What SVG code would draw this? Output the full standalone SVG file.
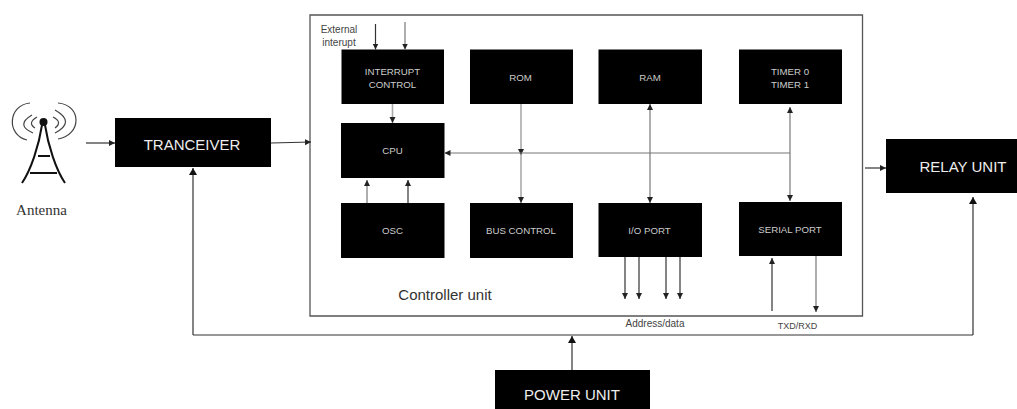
<svg xmlns="http://www.w3.org/2000/svg" width="1017" height="409" viewBox="0 0 1017 409">
<defs>
<marker id="a" markerUnits="userSpaceOnUse" markerWidth="8" markerHeight="8" refX="6" refY="4" orient="auto-start-reverse"><path d="M0 1L6 4L0 7Z" fill="#222"/></marker>
<marker id="k" markerUnits="userSpaceOnUse" markerWidth="10" markerHeight="10" refX="7" refY="5" orient="auto"><path d="M0 1L7 5L0 9Z" fill="#111"/></marker>
</defs>
<style>
.b{fill:#000}
.t{font-family:"Liberation Sans",Arial,sans-serif;font-size:9.7px;fill:#ccc;text-anchor:middle}
.l{font-family:"Liberation Sans",Arial,sans-serif;font-size:15px;fill:#eee;text-anchor:middle}
.d{font-family:"Liberation Sans",Arial,sans-serif;fill:#444;text-anchor:middle}
.c{fill:none;stroke:#333;stroke-width:1.2}
.g{fill:none;stroke:#777;stroke-width:1.2}
.h{fill:none;stroke:#aaa;stroke-width:1.6}
.e{marker-end:url(#a)}
.m{marker-end:url(#k)}
.o{fill:none;stroke:#444;stroke-width:1.2}
</style>
<rect width="1017" height="409" fill="#fff"/>
<g id="controller"><path d="M310 15H862.500V316H310Z" fill="none" stroke="#555" stroke-width="1.300"/>
<text x="445" y="300" font-family="Liberation Sans,Arial,sans-serif" font-size="15" fill="#333" text-anchor="middle">Controller unit</text></g>
<g id="antenna">
<path d="M22 183C31 170 39 145 42 125M65 183C56 170 48 145 45 125M38 156H50M30 173H57" fill="none" stroke="#111" stroke-width="2"/>
<circle cx="43.500" cy="122" r="4" fill="#111"/>
<path d="M37 117Q27 123 35 128M53 117Q63 122 55 128M32 115Q15 125 33 133M55 110Q76 122 55 133M30 103C8 105 6 135 27 140M58 103C82 105 82 135 58 139" class="o"/>
<text x="41.500" y="215" font-family="Liberation Serif,serif" font-size="15" fill="#333" text-anchor="middle">Antenna</text></g>
<g id="tranceiver"><rect class="b" x="115" y="118" width="156" height="49"/><text class="l" x="192" y="150">TRANCEIVER</text></g>
<g id="interrupt"><rect class="b" x="341.500" y="49.500" width="102.500" height="54.500"/><text class="t" x="392.500" y="75">INTERRUPT</text><text class="t" x="392.500" y="88">CONTROL</text></g>
<g id="rom"><rect class="b" x="470" y="49.500" width="103" height="54.500"/><text class="t" x="520.500" y="81">ROM</text></g>
<g id="ram"><rect class="b" x="598.500" y="49.500" width="103.500" height="54.500"/><text class="t" x="650" y="81">RAM</text></g>
<g id="timer"><rect class="b" x="739" y="49.500" width="103" height="54.500"/><text class="t" x="790" y="75">TIMER 0</text><text class="t" x="790" y="88">TIMER 1</text></g>
<g id="cpu"><rect class="b" x="341" y="123" width="103.500" height="55"/><text class="t" x="392.500" y="154">CPU</text></g>
<g id="osc"><rect class="b" x="341" y="203" width="103.500" height="55"/><text class="t" x="392.500" y="234">OSC</text></g>
<g id="bus"><rect class="b" x="470" y="203" width="103" height="55"/><text class="t" x="521" y="234">BUS CONTROL</text></g>
<g id="io"><rect class="b" x="598.500" y="203" width="103.500" height="54"/><text class="t" x="649.500" y="234">I/O PORT</text></g>
<g id="serial"><rect class="b" x="739" y="202" width="103" height="54"/><text class="t" x="790" y="233">SERIAL PORT</text></g>
<g id="relay"><rect class="b" x="886" y="139" width="131" height="54"/><text class="l" x="963" y="172">RELAY UNIT</text></g>
<g id="power"><rect class="b" x="495" y="370" width="155" height="39"/><text class="l" x="572" y="400">POWER UNIT</text></g>
<g id="connectors">
<path class="c e" d="M86 143H115"/>
<path class="c e" d="M271 143L311 142"/>
<path class="c m" d="M193 335V168"/>
<path class="c" d="M193 335H973"/>
<path class="c m" d="M973 335V197"/>
<path class="c m" d="M572 370V336"/>
<path class="c e" d="M865 168H886"/>
<path class="c e" d="M375.500 24V49.500"/>
<path class="g e" d="M405 22V49.500"/>
<path class="h e" d="M392.500 104V123"/>
<path class="g e" d="M367 203V180"/>
<path class="c e" d="M408 203V180"/>
<path class="h e" d="M521 104V155"/>
<path class="h e" d="M521 155V203"/>
<path class="g e" d="M790 153H444.500"/>
<path class="g e" d="M650 104V203" style="marker-start:url(#a)"/>
<path class="g e" d="M790 107V201" style="marker-start:url(#a)"/>
<path class="c e" d="M625 257V299"/>
<path class="c e" d="M639 257V299"/>
<path class="c e" d="M666 257V299"/>
<path class="c e" d="M680 257V299"/>
<path class="c e" d="M772 311V258"/>
<path class="g e" d="M816 256V312"/>
</g>
<g id="labels" font-family="Liberation Sans,Arial,sans-serif">
<text class="d" x="339" y="33" font-size="10">External</text>
<text class="d" x="339" y="46" font-size="10">interupt</text>
<text class="d" x="655" y="327" font-size="10">Address/data</text>
<text class="d" x="797.500" y="329" font-size="9">TXD/RXD</text>
</g>
</svg>
